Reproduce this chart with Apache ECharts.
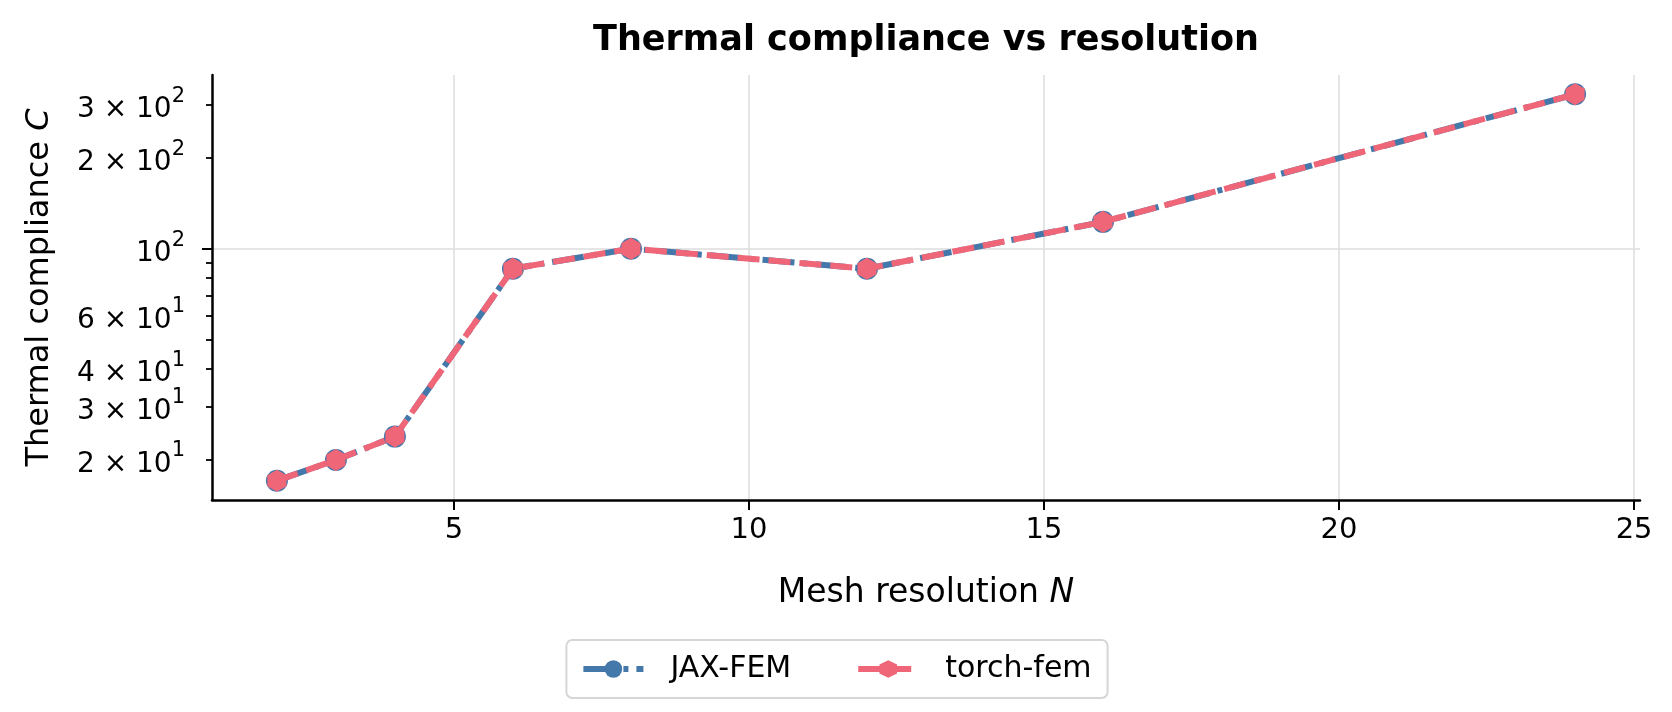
<!DOCTYPE html>
<html>
<head>
<meta charset="utf-8">
<script src="https://cdn.jsdelivr.net/npm/echarts@6/dist/echarts.min.js"></script>
<style>
html,body{margin:0;padding:0;background:#fff;}
#chart{width:1672px;height:712px;}
</style>
</head>
<body>
<div id="chart"></div>
<script>
// ---- data ----
const resolutions = [2, 3, 4, 6, 8, 12, 16, 24];
const jaxFem   = [17.0, 19.9, 23.8, 85.8, 100.0, 85.8, 122.7, 325.0];
const torchFem = [17.0, 19.9, 23.8, 85.8, 100.0, 85.8, 122.7, 325.0];
const xTicks = [5, 10, 15, 20, 25];
const yLabelTicks = [20, 30, 40, 60, 100, 200, 300];
const yLabelMantissa = ['2 × 10', '3 × 10', '4 × 10', '6 × 10', '10', '2 × 10', '3 × 10'];
const yLabelExponent = ['1', '1', '1', '1', '2', '2', '2'];
const yMajorTicks = [100];
const yMinorTicks = [20, 30, 40, 50, 60, 70, 80, 90, 200, 300];
const titleText = 'Thermal compliance vs resolution';

const FONT = 'DejaVu Sans';
const BLUE = '#4477AA';
const PINK = '#EE6677';

// matplotlib-style 5% margins (log space for y)
const xMin = 0.9, xMax = 25.1;
const lmin = Math.log10(Math.min(...jaxFem)), lmax = Math.log10(Math.max(...jaxFem));
const pad = (lmax - lmin) * 0.05;
const yMin = Math.pow(10, lmin - pad), yMax = Math.pow(10, lmax + pad);

const hexagon = 'path://M0,-1 L0.866,-0.5 L0.866,0.5 L0,1 L-0.866,0.5 L-0.866,-0.5 Z';

// center title over the plot area (left 212, right 1640)
const TITLE_FONT = 35;
const ctx = document.createElement('canvas').getContext('2d');
ctx.font = 'bold ' + TITLE_FONT + 'px "' + FONT + '"';
const titleW = ctx.measureText(titleText).width;
const plotCenter = (212 + 1640) / 2;

const chart = echarts.init(document.getElementById('chart'), null, {renderer: 'canvas'});
chart.setOption({
  animation: false,
  backgroundColor: '#ffffff',
  textStyle: {fontFamily: FONT},
  title: {
    text: titleText,
    left: plotCenter - titleW / 2,
    top: 23,
    padding: 0,
    textStyle: {fontFamily: FONT, fontWeight: 'bold', fontSize: TITLE_FONT, color: '#000'}
  },
  grid: {left: 212, right: 32, top: 75, height: 425, containLabel: false},
  legend: {
    left: 'center',
    top: 640,
    orient: 'horizontal',
    padding: [14, 16, 14, 14],
    itemGap: 64,
    itemWidth: 60,
    itemHeight: 22,
    borderColor: '#d6d6d6',
    borderWidth: 2,
    borderRadius: 6,
    lineStyle: {width: 6},
    textStyle: {fontFamily: FONT, fontSize: 30, color: '#000', padding: [0, 0, 0, 22]},
    data: ['JAX-FEM', 'torch-fem']
  },
  xAxis: {
    type: 'value',
    min: xMin,
    max: xMax,
    name: '{a|Mesh resolution }{i|N}',
    nameLocation: 'middle',
    nameGap: 77,
    nameTextStyle: {
      rich: {
        a: {fontFamily: FONT, fontSize: 33, color: '#000'},
        i: {fontFamily: FONT, fontSize: 33, fontStyle: 'italic', color: '#000'}
      }
    },
    axisLine: {show: true, lineStyle: {color: '#000', width: 2.5}},
    axisTick: {show: true, customValues: xTicks, length: 10, lineStyle: {color: '#000', width: 2}},
    axisLabel: {customValues: xTicks, margin: 16, fontFamily: FONT, fontSize: 29, color: '#000'},
    splitLine: {show: true, lineStyle: {color: '#dddddd', width: 1.5}}
  },
  yAxis: [
    {
      type: 'log',
      logBase: 10,
      min: yMin,
      max: yMax,
      position: 'left',
      name: '{a|Thermal compliance }{i|C}',
      nameLocation: 'middle',
      nameGap: 156,
      nameRotate: 90,
      nameTextStyle: {
        rich: {
          a: {fontFamily: FONT, fontSize: 32, color: '#000'},
          i: {fontFamily: FONT, fontSize: 32, fontStyle: 'italic', color: '#000'}
        }
      },
      axisLine: {show: true, lineStyle: {color: '#000', width: 2.5}},
      axisTick: {show: true, customValues: yMajorTicks, length: 10, lineStyle: {color: '#000', width: 2}},
      axisLabel: {
        customValues: yLabelTicks,
        margin: 27,
        color: '#000',
        formatter: function (v) {
          let best = 0, bd = Infinity;
          yLabelTicks.forEach(function (t, i) { const d = Math.abs(t - v); if (d < bd) { bd = d; best = i; } });
          return '{b|' + yLabelMantissa[best] + '}{s|' + yLabelExponent[best] + '}';
        },
        rich: {
          b: {fontFamily: FONT, fontSize: 28, color: '#000', lineHeight: 38, verticalAlign: 'bottom'},
          s: {fontFamily: FONT, fontSize: 21, color: '#000', lineHeight: 21, verticalAlign: 'top'}
        }
      },
      splitLine: {show: true, lineStyle: {color: '#dddddd', width: 1.5}},
      minorTick: {show: false},
      minorSplitLine: {show: false}
    },
    {
      type: 'log',
      logBase: 10,
      min: yMin,
      max: yMax,
      position: 'left',
      axisLine: {show: false},
      axisTick: {show: true, customValues: yMinorTicks, length: 6, lineStyle: {color: '#000', width: 1.8}},
      axisLabel: {show: false},
      splitLine: {show: false}
    }
  ],
  series: [
    {
      name: 'JAX-FEM',
      type: 'line',
      yAxisIndex: 0,
      data: resolutions.map(function (x, i) { return [x, jaxFem[i]]; }),
      symbol: 'circle',
      symbolSize: 22,
      showSymbol: true,
      itemStyle: {color: BLUE},
      lineStyle: {color: BLUE, width: 6, type: [32, 8, 5, 8], cap: 'butt'},
      z: 2
    },
    {
      name: 'torch-fem',
      type: 'line',
      yAxisIndex: 0,
      data: resolutions.map(function (x, i) { return [x, torchFem[i]]; }),
      symbol: hexagon,
      symbolSize: 22,
      symbolKeepAspect: true,
      showSymbol: true,
      itemStyle: {color: PINK, borderWidth: 0},
      lineStyle: {color: PINK, width: 6, type: [22, 9], cap: 'butt'},
      z: 3
    }
  ]
});
</script>
</body>
</html>
